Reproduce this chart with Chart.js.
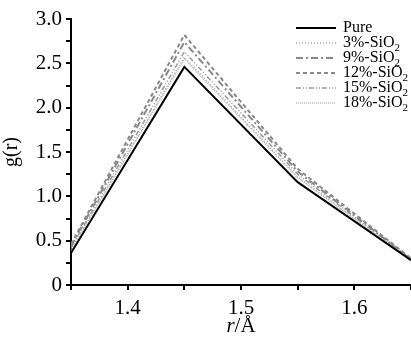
<!DOCTYPE html>
<html>
<head>
<meta charset="utf-8">
<script src="https://cdn.jsdelivr.net/npm/chart.js@4"></script>
<style>
  html, body { margin: 0; padding: 0; background: #fff; }
  #wrap { width: 411px; height: 337px; position: relative; }
</style>
</head>
<body>
<div id="wrap"><canvas id="gr"></canvas></div>
<script>
// r positions (Å) and g(r) for each sample
const rValues = [1.35, 1.45, 1.55, 1.65];
const pure = [0.36, 2.46, 1.16, 0.28];
const sio2_3 = [0.40, 2.57, 1.22, 0.28];
const sio2_9 = [0.44, 2.74, 1.28, 0.29];
const sio2_12 = [0.46, 2.82, 1.31, 0.30];
const sio2_15 = [0.42, 2.63, 1.25, 0.29];
const sio2_18 = [0.39, 2.55, 1.21, 0.28];
const seriesNames = ["Pure", "3%-SiO", "9%-SiO", "12%-SiO", "15%-SiO", "18%-SiO"];
const yTickLabels = ["0", "0.5", "1.0", "1.5", "2.0", "2.5", "3.0"];
const xTickLabels = ["1.4", "1.5", "1.6"];

const SERIF = "'Liberation Serif', 'Times New Roman', serif";

function pts(vals) {
  return rValues.map((r, i) => ({ x: r, y: vals[i] }));
}

const styles = [
  { color: "#000", width: 2, dash: [] },
  { color: "#aaa", width: 1.5, dash: [1, 2] },
  { color: "#888", width: 2, dash: [7, 3, 2, 3] },
  { color: "#888", width: 2, dash: [4, 3] },
  { color: "#999", width: 1.5, dash: [5, 2, 1, 2, 1, 2] },
  { color: "#bbb", width: 1.5, dash: [1, 1] },
];
const allSeries = [pure, sio2_3, sio2_9, sio2_12, sio2_15, sio2_18];

// gray curves underneath, pure on top
const datasets = allSeries.map((vals, i) => ({
  label: seriesNames[i],
  data: pts(vals),
  borderColor: styles[i].color,
  borderWidth: styles[i].width,
  borderDash: styles[i].dash,
  pointRadius: 0,
  tension: 0,
  fill: false,
  order: i === 0 ? 0 : 1,
}));

function closeTo(v, arr) {
  return arr.find((s) => Math.abs(parseFloat(s) - v) < 1e-6);
}

const decor = {
  id: "decor",
  afterDraw(chart) {
    const ctx = chart.ctx;
    ctx.save();
    // legend
    const lx0 = 296, lx1 = 336, tx = 343;
    let ly = 28;
    seriesNames.forEach((name, i) => {
      const s = styles[i];
      ctx.beginPath();
      ctx.strokeStyle = s.color;
      ctx.lineWidth = s.width;
      ctx.setLineDash(s.dash);
      ctx.moveTo(lx0, ly);
      ctx.lineTo(lx1, ly);
      ctx.stroke();
      ctx.setLineDash([]);
      ctx.fillStyle = "#000";
      ctx.textBaseline = "middle";
      ctx.textAlign = "left";
      ctx.font = "16px " + SERIF;
      ctx.fillText(name, tx, ly);
      if (i > 0) {
        const w = ctx.measureText(name).width;
        ctx.font = "11px " + SERIF;
        ctx.fillText("2", tx + w, ly + 5);
      }
      ly += 15;
    });
    // x-axis title
    const xs = chart.scales.x;
    const cx = xs.getPixelForValue(1.5);
    ctx.font = "italic 21px " + SERIF;
    const w1 = ctx.measureText("r").width;
    ctx.font = "21px " + SERIF;
    const w2 = ctx.measureText("/Å").width;
    const start = cx - (w1 + w2) / 2;
    ctx.textBaseline = "alphabetic";
    ctx.font = "italic 21px " + SERIF;
    ctx.fillText("r", start, 332);
    ctx.font = "21px " + SERIF;
    ctx.fillText("/Å", start + w1, 332);
    ctx.restore();
  },
};

new Chart(document.getElementById("gr"), {
  type: "line",
  data: { datasets: datasets },
  options: {
    responsive: true,
    maintainAspectRatio: false,
    animation: false,
    layout: { padding: { top: 19, right: 0, left: 0, bottom: 0 } },
    plugins: { legend: { display: false }, tooltip: { enabled: false } },
    scales: {
      x: {
        type: "linear",
        min: 1.35,
        max: 1.65,
        border: { color: "#000", width: 2 },
        grid: { drawOnChartArea: false, tickLength: 5, color: "#000", lineWidth: 2 },
        ticks: {
          stepSize: 0.05,
          padding: 6,
          color: "#000",
          font: { family: SERIF, size: 21 },
          maxRotation: 0,
          autoSkip: false,
          callback: (v) => closeTo(v, xTickLabels) || "",
        },
        afterFit: (s) => {
          s.height = 52;
          s.paddingLeft = 0;
          s.paddingRight = 0;
        },
      },
      y: {
        min: 0,
        max: 3,
        border: { color: "#000", width: 2 },
        grid: { drawOnChartArea: false, tickLength: 5, color: "#000", lineWidth: 2 },
        ticks: {
          stepSize: 0.25,
          padding: 4,
          color: "#000",
          font: { family: SERIF, size: 21 },
          autoSkip: false,
          callback: (v) => closeTo(v, yTickLabels) || "",
        },
        title: {
          display: true,
          text: "g(r)",
          color: "#000",
          font: { family: SERIF, size: 20 },
          padding: 0,
        },
        afterFit: (s) => { s.width = 71; },
      },
    },
  },
  plugins: [decor],
});
</script>
</body>
</html>
